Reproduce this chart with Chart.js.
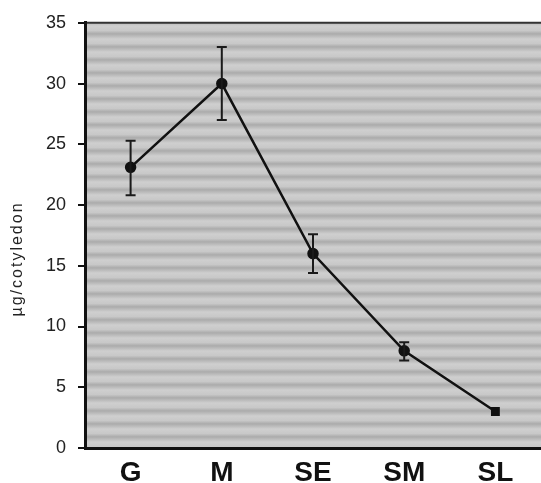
<!DOCTYPE html>
<html>
<head>
<meta charset="utf-8">
<script src="https://cdn.jsdelivr.net/npm/chart.js@4"></script>
<style>
  html, body { margin: 0; padding: 0; background: #fff; }
  #wrap { width: 541px; height: 483px; }
</style>
</head>
<body>
<div id="wrap"><canvas id="chart"></canvas></div>
<script>
// stages and measured content per cotyledon
const stages = ['G', 'M', 'SE', 'SM', 'SL'];
const means = [23.1, 30.0, 16.0, 8.0, 3.0];
const errLow = [20.8, 27.0, 14.4, 7.2, 3.0];
const errHigh = [25.3, 33.0, 17.6, 8.7, 3.0];
const yTicks = [0, 5, 10, 15, 20, 25, 30, 35];
const yTitle = 'µg/cotyledon';

// striped gray background of the plot area
const stripeBg = {
    id: 'stripeBg',
    beforeDraw(chart) {
        const { ctx, chartArea: a } = chart;
        const p = document.createElement('canvas');
        p.width = 4; p.height = 13;
        const pc = p.getContext('2d');
        const g = pc.createLinearGradient(0, 0, 0, 13);
        g.addColorStop(0, '#cfcfcf');
        g.addColorStop(0.35, '#c8c8c8');
        g.addColorStop(0.6, '#ababab');
        g.addColorStop(1, '#cfcfcf');
        pc.fillStyle = g;
        pc.fillRect(0, 0, 4, 13);
        ctx.save();
        ctx.fillStyle = ctx.createPattern(p, 'repeat');
        ctx.fillRect(a.left, a.top, a.right - a.left, a.bottom - a.top);
        // top frame line
        ctx.strokeStyle = '#333';
        ctx.lineWidth = 2;
        ctx.beginPath();
        ctx.moveTo(a.left, a.top);
        ctx.lineTo(a.right, a.top);
        ctx.stroke();
        ctx.restore();
    }
};

// error bars from the error arrays
const errorBars = {
    id: 'errorBars',
    afterDatasetsDraw(chart) {
        const { ctx, scales: { x, y } } = chart;
        ctx.save();
        ctx.strokeStyle = '#1a1a1a';
        ctx.lineWidth = 2;
        stages.forEach((s, i) => {
            if (errHigh[i] === errLow[i]) return;
            const px = x.getPixelForValue(i);
            const y1 = y.getPixelForValue(errLow[i]);
            const y2 = y.getPixelForValue(errHigh[i]);
            ctx.beginPath();
            ctx.moveTo(px, y1); ctx.lineTo(px, y2);
            ctx.moveTo(px - 5, y1); ctx.lineTo(px + 5, y1);
            ctx.moveTo(px - 5, y2); ctx.lineTo(px + 5, y2);
            ctx.stroke();
        });
        ctx.restore();
    }
};

// rotated y title
const yLabel = {
    id: 'yLabel',
    afterDraw(chart) {
        const ctx = chart.ctx;
        ctx.save();
        ctx.translate(18, 259);
        ctx.rotate(-Math.PI / 2);
        ctx.font = '16px "Liberation Sans", Arial, sans-serif';
        ctx.letterSpacing = '2px';
        ctx.fillStyle = '#222';
        ctx.textAlign = 'center';
        ctx.textBaseline = 'middle';
        ctx.fillText(yTitle, 0, 0);
        ctx.restore();
    }
};

const ctx = document.getElementById('chart').getContext('2d');
const chart = new Chart(ctx, {
    type: 'line',
    data: {
        labels: stages,
        datasets: [{
            data: means,
            borderColor: '#111',
            backgroundColor: '#111',
            borderWidth: 2.5,
            pointRadius: 4.5,
            pointStyle: ['circle', 'circle', 'circle', 'circle', 'rect'],
            tension: 0
        }]
    },
    options: {
        responsive: true,
        maintainAspectRatio: false,
        animation: false,
        layout: { autoPadding: false, padding: { top: 22, right: 0, left: 0, bottom: 0 } },
        plugins: {
            legend: { display: false },
            tooltip: { enabled: false }
        },
        scales: {
            x: {
                offset: true,
                afterFit(scale) { scale.height = 35; },
                grid: { display: false },
                border: { display: true, color: '#111', width: 3 },
                ticks: {
                    color: '#111',
                    padding: 0,
                    font: { family: '"Liberation Sans", Arial, sans-serif', size: 28, weight: 'bold' }
                }
            },
            y: {
                min: 0,
                max: 35,
                afterFit(scale) { scale.width = 85; },
                afterBuildTicks(scale) { scale.ticks = yTicks.map(v => ({ value: v })); },
                grid: { drawOnChartArea: false, tickLength: 7, color: '#111', lineWidth: 2 },
                border: { display: true, color: '#111', width: 3 },
                ticks: {
                    color: '#222',
                    padding: 12,
                    font: { family: '"Liberation Sans", Arial, sans-serif', size: 18 }
                }
            }
        }
    },
    plugins: [stripeBg, errorBars, yLabel]
});
</script>
</body>
</html>
